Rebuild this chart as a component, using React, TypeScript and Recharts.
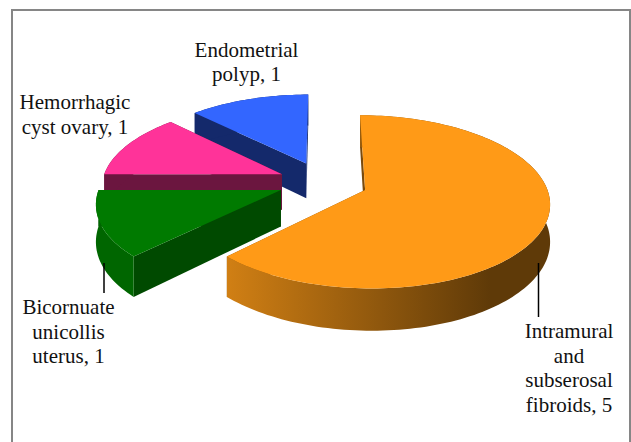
import React from 'react';
import { PieChart, Pie } from 'recharts';

const categories = ['Endometrial polyp', 'Hemorrhagic cyst ovary', 'Bicornuate unicollis uterus', 'Intramural and subserosal fibroids'];
const values = [1, 1, 1, 5];
const topColors = ['#3366ff', '#ff3399', '#007a00', '#ff9a17'];
const edgeColors = ['#14296b', '#6b163f', '#004a00', '#7a4a0c'];
const rimColors = ['#14296b', '#6b163f', '#006600', 'url(#orangeRim)'];
const labelLines = [
  ['Endometrial', 'polyp, 1'],
  ['Hemorrhagic', 'cyst ovary, 1'],
  ['Bicornuate', 'unicollis', 'uterus, 1'],
  ['Intramural', 'and', 'subserosal', 'fibroids, 5'],
];
const labelAnchors = [
  { x: 246.5, y: 56.5 },
  { x: 75, y: 109 },
  { x: 68.5, y: 314 },
  { x: 569, y: 338 },
];
const leaderLines = [null, null, { x: 104, y1: 263, y2: 293 }, { x: 538.5, y1: 263, y2: 317 }];

const tableData = categories.map((name, i) => ({ name, value: values[i], fill: topColors[i] }));

const EXPLODE = 45;
const TILT = 0.46;
const PERSPECTIVE = 0.00075;
const DEPTH = 36;
const RAD = Math.PI / 180;

function project(cx: number, cy: number, X: number, V: number, drop = 0): [number, number] {
  const s = 1 / (1 - PERSPECTIVE * V);
  return [cx + X * s, cy + V * TILT * s + drop * s];
}
const toPath = (pts: [number, number][]) =>
  'M' + pts.map((p) => p[0].toFixed(2) + ',' + p[1].toFixed(2)).join('L') + 'Z';

function Slice3D(props: any) {
  const { cx, cy, outerRadius: R, startAngle, endAngle, index } = props;
  const mid = ((startAngle + endAngle) / 2) * RAD;
  const ox = Math.cos(mid) * EXPLODE;
  const ov = -Math.sin(mid) * EXPLODE;
  const arc: [number, number][] = [];
  const steps = Math.ceil((endAngle - startAngle) / 1.5);
  for (let i = 0; i <= steps; i++) {
    const a = (startAngle + ((endAngle - startAngle) * i) / steps) * RAD;
    arc.push([ox + Math.cos(a) * R, ov - Math.sin(a) * R]);
  }
  const P = (q: [number, number], drop = 0) => project(cx, cy, q[0], q[1], drop);
  const apex: [number, number] = [ox, ov];
  const top = [P(apex), ...arc.map((q) => P(q))];
  const rimWall = [...arc.map((q) => P(q)), ...arc.slice().reverse().map((q) => P(q, DEPTH))];
  const first = arc[0];
  const last = arc[arc.length - 1];
  const wallA = [P(apex), P(first), P(first, DEPTH), P(apex, DEPTH)];
  const wallB = [P(apex), P(last), P(last, DEPTH), P(apex, DEPTH)];
  return (
    <g>
      <defs>
        <linearGradient id="orangeRim" gradientUnits="userSpaceOnUse" x1="228" y1="0" x2="490" y2="0">
          <stop offset="0" stopColor="#d07f14" />
          <stop offset="1" stopColor="#5f3a08" />
        </linearGradient>
      </defs>
      <path d={toPath(wallA)} fill={edgeColors[index]} />
      <path d={toPath(wallB)} fill={edgeColors[index]} />
      <path d={toPath(rimWall)} fill={rimColors[index]} />
      <path d={toPath(top)} fill={topColors[index]} />
    </g>
  );
}

function SliceLabel(props: any) {
  const i = props.index;
  const a = labelAnchors[i];
  const lead = leaderLines[i];
  return (
    <g>
      {lead && <line x1={lead.x} x2={lead.x} y1={lead.y1} y2={lead.y2} stroke="#000" strokeWidth={1.5} />}
      {labelLines[i].map((t, k) => (
        <text key={k} x={a.x} y={a.y + k * 24.7} textAnchor="middle" fontFamily="'Liberation Serif'" fontSize={21} fill="#111">
          {t}
        </text>
      ))}
    </g>
  );
}

export default function App() {
  return (
    <div style={{ position: 'absolute', left: 0, top: 0, width: 631, height: 442, background: '#fff', overflow: 'hidden' }}>
      <div style={{ position: 'absolute', left: 11, top: 9, width: 620, height: 450, border: '2px solid #868686', boxSizing: 'border-box' }} />
      <div style={{ position: 'absolute', left: 0, top: 0 }}>
        <PieChart width={631} height={442} margin={{ top: 0, right: 0, bottom: 0, left: 0 }}>
          <Pie
            data={tableData}
            dataKey="value"
            nameKey="name"
            cx={323}
            cy={182}
            innerRadius={0}
            outerRadius={180}
            startAngle={90}
            endAngle={450}
            stroke="none"
            isAnimationActive={false}
            shape={Slice3D}
            label={SliceLabel}
            labelLine={false}
          />
        </PieChart>
      </div>
    </div>
  );
}
